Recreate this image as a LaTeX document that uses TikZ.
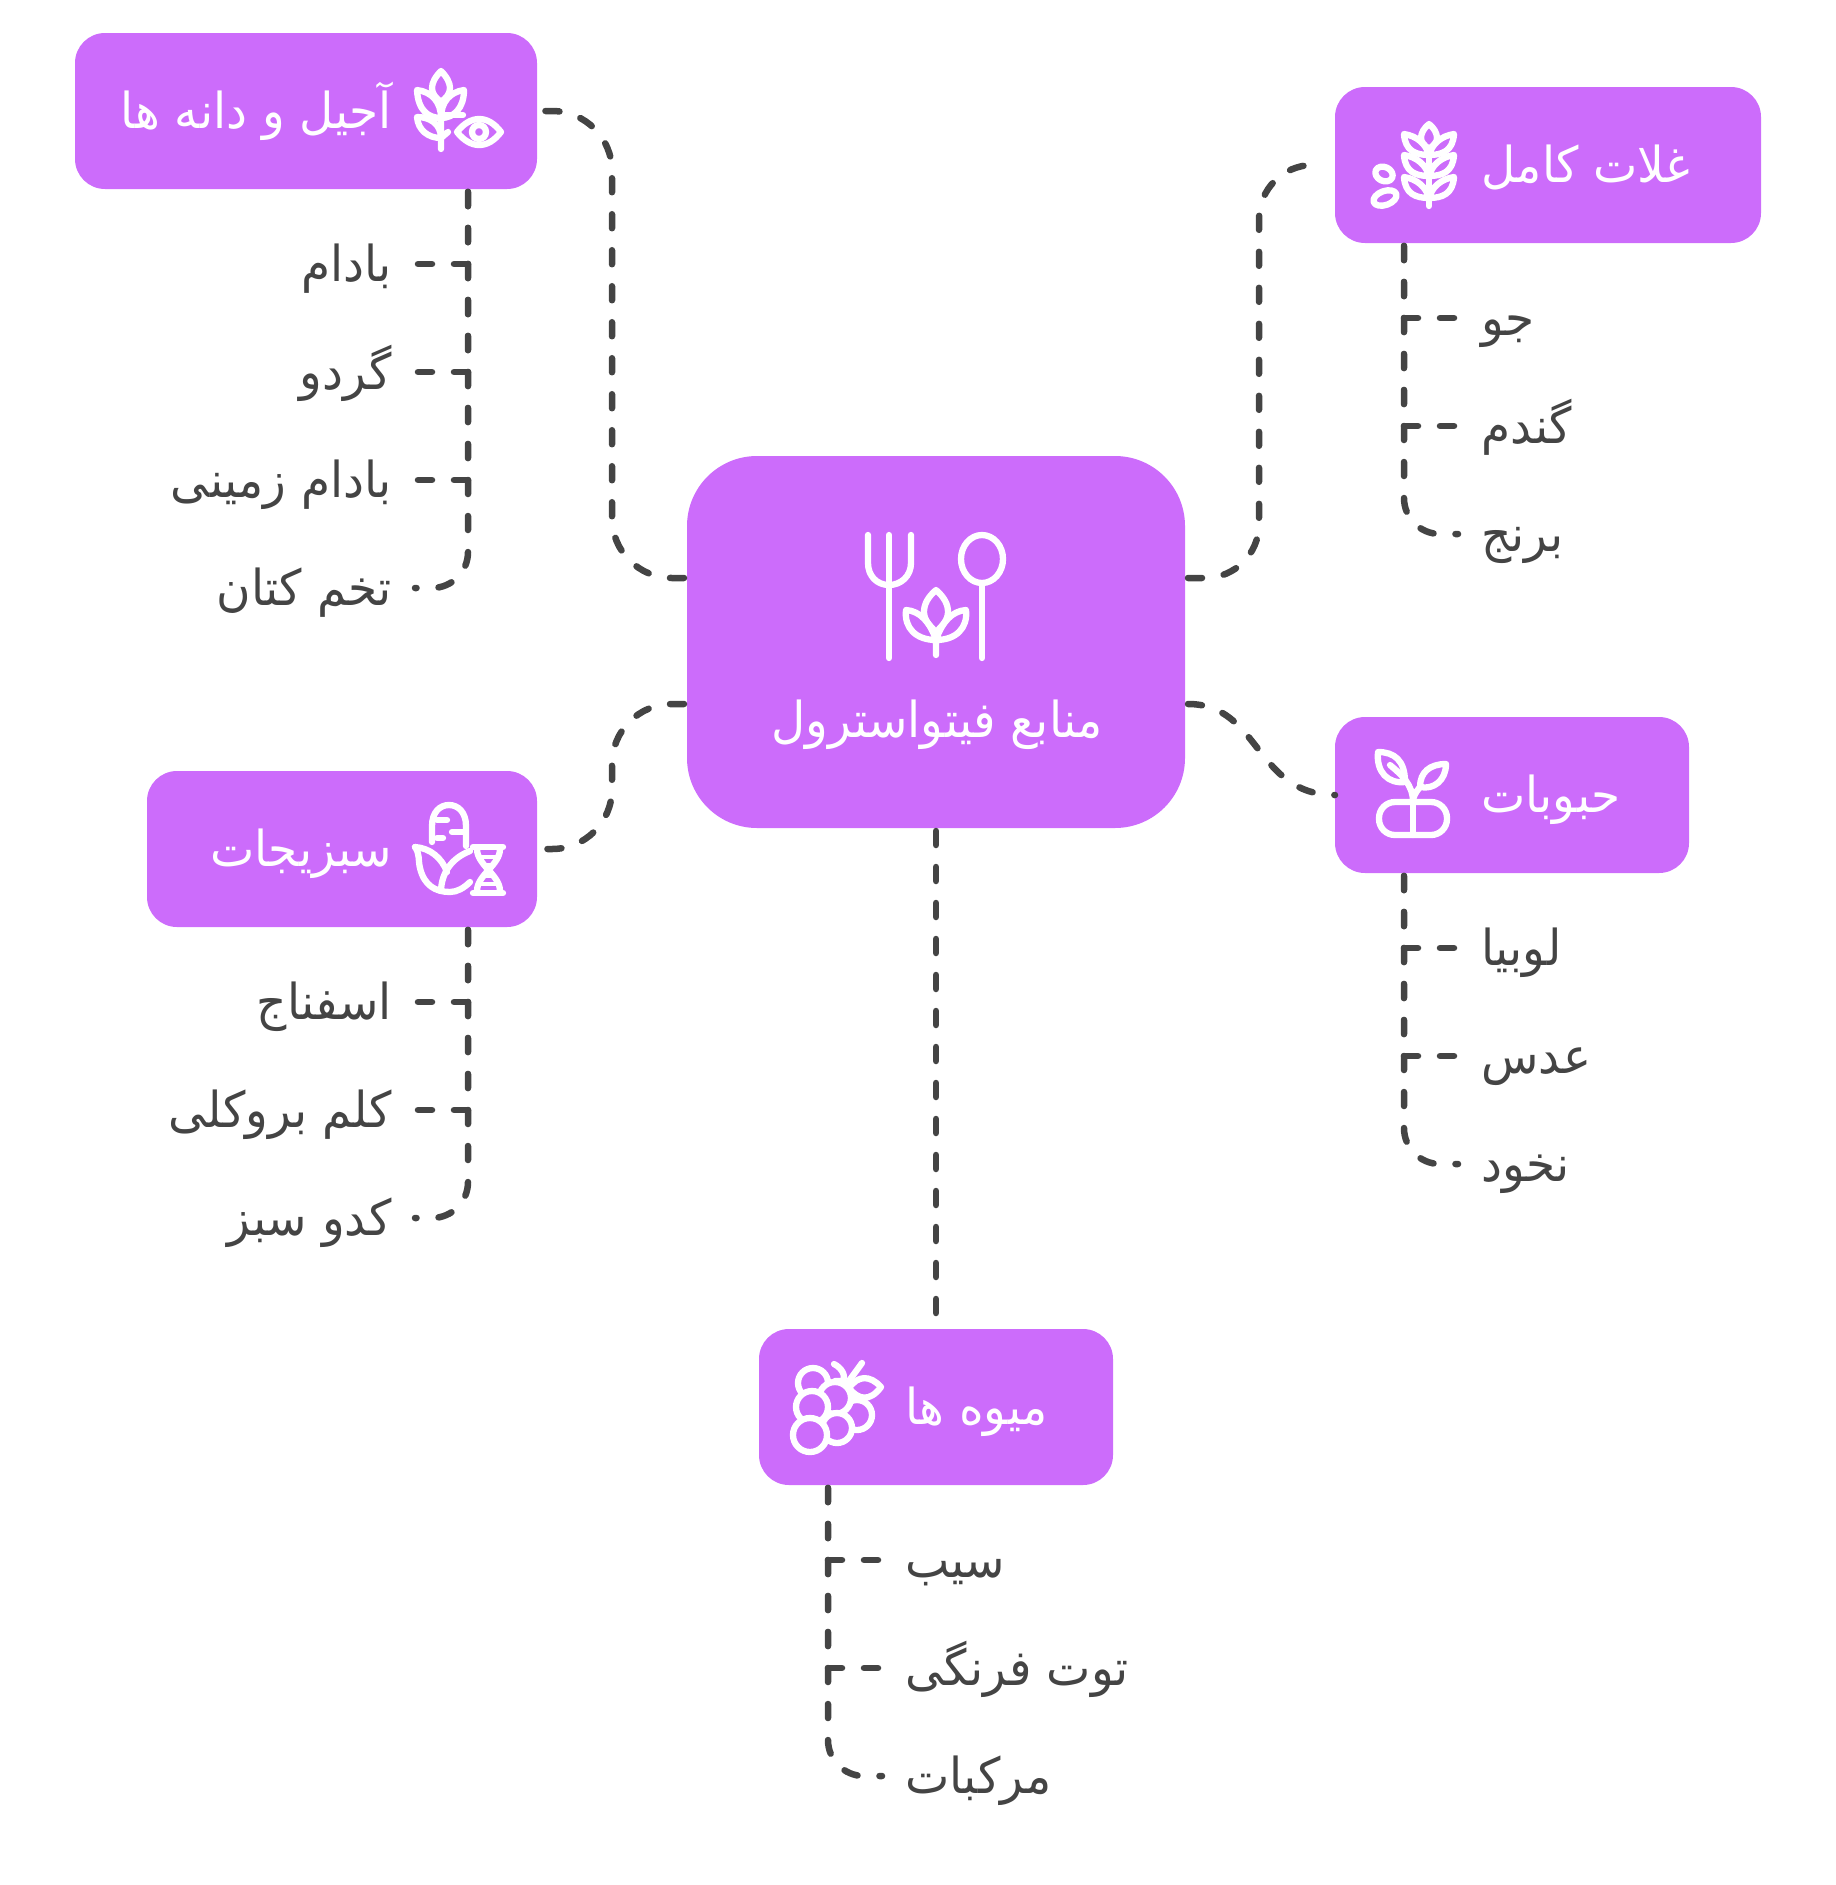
\documentclass[tikz,border=0pt]{standalone}
\usepackage{fontspec}
\TeXXeTstate=1
\newfontfamily\arabicfont[Script=Arabic,FakeStretch=.95]{DejaVu Sans}
\newcommand{\fa}[1]{{\arabicfont\beginR #1\endR}}
\definecolor{topicfill}{HTML}{CC6CFB}
\definecolor{linkgray}{HTML}{444444}
\tikzset{
  topic/.style={fill=topicfill,rounded corners=30pt,inner sep=0pt,outer sep=0pt},
  topictext/.style={white,inner sep=0pt,text height=34pt,text depth=0pt,font=\fontsize{49.5}{52}\selectfont},
  leaf/.style={text=linkgray,inner ysep=0pt,inner xsep=23pt,text height=34pt,text depth=0pt,font=\fontsize{49.5}{52}\selectfont},
  link/.style={linkgray,line width=6.5pt,line cap=round,dash pattern=on 14pt off 22pt},
  icon/.style={white,line width=6.3pt,line cap=round,line join=round}
}
\begin{document}
\begin{tikzpicture}[x=1pt,y=-1pt]
  \useasboundingbox (0,0) rectangle (1836,1885);

  % boxes
  \node[topic,rounded corners=70pt,minimum width=498pt,minimum height=372pt] (core) at (936,642) {};
  \node[topic,minimum width=462pt,minimum height=156pt] (nuts) at (306,111) {};
  \node[topic,minimum width=426pt,minimum height=156pt] (grains) at (1548,165) {};
  \node[topic,minimum width=354pt,minimum height=156pt] (pulses) at (1512,795) {};
  \node[topic,minimum width=390pt,minimum height=156pt] (greens) at (342,849) {};
  \node[topic,minimum width=354pt,minimum height=156pt] (fruits) at (936,1407) {};

  \node[topictext] (coretext) at (937,720) {\fa{منابع فیتواسترول}};
  \node[topictext,anchor=east] (nutstext) at (392,111) {\fa{آجیل و دانه ها}};
  \node[topictext,anchor=west] (grainstext) at (1481,165) {\fa{غلات کامل}};
  \node[topictext,anchor=west] (pulsestext) at (1481,795) {\fa{حبوبات}};
  \node[topictext,anchor=east] (greenstext) at (392,849) {\fa{سبزیجات}};
  \node[topictext,anchor=west] (fruitstext) at (905,1407) {\fa{میوه ها}};

  % links from the middle
  \draw[link,rounded corners=60pt] ([xshift=-3pt,yshift=64pt]core.west) -- (612,578) -- (612,111) -- (nuts.east);
  \draw[link,rounded corners=54pt] ([xshift=3pt,yshift=64pt]core.east) -- (1259,578) -- (1259,165) -- ([xshift=-22pt]grains.west);
  \draw[link,rounded corners=60pt] ([xshift=-3pt,yshift=-62pt]core.west) -- (612,704) -- (612,849) -- (greens.east);
  \draw[link] ([xshift=3pt,yshift=-62pt]core.east) .. controls (1260,704) and (1255,795) .. (pulses.west);
  \draw[link] ([yshift=-3pt]core.south) -- (fruits.north);

  % leaves
  \coordinate (nutsstem) at (468,192);
  \coordinate (grainsstem) at (1404,246);
  \coordinate (pulsesstem) at (1404,876);
  \coordinate (greensstem) at (468,930);
  \coordinate (fruitsstem) at (828,1488);

  \foreach \name/\y/\word in {almond/264/بادام,walnut/372/گردو,peanut/480/بادام زمینی}
    {\node[leaf,anchor=east] (\name) at (415,\y) {\fa{\word}};
     \draw[link] (nutsstem) |- (\name.east);}
  \node[leaf,anchor=east] (flax) at (415,588) {\fa{تخم کتان}};
  \draw[link,rounded corners=36pt] (nutsstem) |- (flax.east);

  \foreach \name/\y/\word in {spinach/1002/اسفناج,broccoli/1110/کلم بروکلی}
    {\node[leaf,anchor=east] (\name) at (415,\y) {\fa{\word}};
     \draw[link] (greensstem) |- (\name.east);}
  \node[leaf,anchor=east] (zucchini) at (415,1218) {\fa{کدو سبز}};
  \draw[link,rounded corners=36pt] (greensstem) |- (zucchini.east);

  \foreach \name/\y/\word in {barley/318/جو,wheat/426/گندم}
    {\node[leaf,anchor=west] (\name) at (1458,\y) {\fa{\word}};
     \draw[link] (grainsstem) |- (\name.west);}
  \node[leaf,anchor=west] (rice) at (1458,534) {\fa{برنج}};
  \draw[link,rounded corners=36pt] (grainsstem) |- (rice.west);

  \foreach \name/\y/\word in {bean/948/لوبیا,lentil/1056/عدس}
    {\node[leaf,anchor=west] (\name) at (1458,\y) {\fa{\word}};
     \draw[link] (pulsesstem) |- (\name.west);}
  \node[leaf,anchor=west] (pea) at (1458,1164) {\fa{نخود}};
  \draw[link,rounded corners=36pt] (pulsesstem) |- (pea.west);

  \foreach \name/\y/\word in {apple/1560/سیب,berry/1668/توت فرنگی}
    {\node[leaf,anchor=west] (\name) at (882,\y) {\fa{\word}};
     \draw[link] (fruitsstem) |- (\name.west);}
  \node[leaf,anchor=west] (citrus) at (882,1776) {\fa{مرکبات}};
  \draw[link,rounded corners=36pt] (fruitsstem) |- (citrus.west);

  % fork, spoon and sprout
  \draw[icon] (868,535) -- (868,563) .. controls (868,576) and (877,585) .. (889,585)
    .. controls (901,585) and (911,576) .. (911,563) -- (911,535);
  \draw[icon] (889,535) -- (889,658);
  \draw[icon] (982,559) ellipse (21 and 24);
  \draw[icon] (982,583) -- (982,658);
  \draw[icon] (936,590) .. controls (928,597) and (924,604) .. (924,612) .. controls (924,620) and (930,626) .. (936,632)
    .. controls (942,626) and (948,620) .. (948,612) .. controls (948,604) and (944,597) .. (936,590);
  \draw[icon] (936,640) .. controls (930,622) and (920,611) .. (906,610) .. controls (904,628) and (916,640) .. (936,640)
    .. controls (956,640) and (968,628) .. (966,610) .. controls (952,611) and (942,622) .. (936,640) -- (936,655);

  % wheat and eye
  \draw[icon] (441,71) .. controls (435,77) and (432,83) .. (432,88) .. controls (432,94) and (436,98) .. (441,102)
    .. controls (446,98) and (450,94) .. (450,88) .. controls (450,83) and (447,77) .. (441,71);
  \draw[icon] (441,118) .. controls (428,118) and (418,110) .. (417,90) .. controls (432,92) and (441,102) .. (441,118)
    .. controls (441,102) and (450,92) .. (464,90) .. controls (464,108) and (454,118) .. (441,118);
  \draw[icon] (441,138) .. controls (428,138) and (418,130) .. (417,117) .. controls (430,117) and (441,124) .. (441,138) -- (441,149);
  \draw[icon] (441,118) -- (441,138) -- (448,132);
  \draw[icon] (441,115) -- (463,115);
  \draw[icon] (457,132) .. controls (464,123) and (472,119) .. (479,119) .. controls (487,119) and (494,123) .. (501,132)
    .. controls (494,141) and (487,145) .. (479,145) .. controls (472,145) and (464,141) .. (457,132);
  \draw[icon] (479,132) circle (7);

  % wheat and grains
  \draw[icon] (1429,124) .. controls (1424,128) and (1421,133) .. (1421,138) .. controls (1421,142) and (1424,145) .. (1429,149)
    .. controls (1434,145) and (1437,142) .. (1437,138) .. controls (1437,133) and (1434,128) .. (1429,124);
  \foreach \t in {134,155,177}
    {\draw[icon] (1429,\t+21) .. controls (1416,\t+21) and (1405,\t+17) .. (1404,\t)
        .. controls (1417,\t+2) and (1426,\t+10) .. (1429,\t+21)
        .. controls (1432,\t+10) and (1441,\t+2) .. (1454,\t) .. controls (1453,\t+17) and (1442,\t+21) .. (1429,\t+21);}
  \draw[icon] (1429,149) -- (1429,206);
  \draw[icon,rotate around={-25:(1384,174)}] (1384,174) ellipse (9 and 7);
  \draw[icon,rotate around={20:(1385,198)}] (1385,198) ellipse (12 and 7);

  % sprout and capsule
  \draw[icon,rounded corners=16pt] (1379,802) rectangle (1447,835);
  \draw[icon] (1413,802) -- (1413,835);
  \draw[icon] (1378,752) .. controls (1394,752) and (1405,760) .. (1405,782)
    .. controls (1388,784) and (1376,772) .. (1378,752);
  \draw[icon] (1446,764) .. controls (1430,764) and (1420,772) .. (1420,787)
    .. controls (1434,790) and (1446,780) .. (1446,764);
  \draw[icon] (1390,765) .. controls (1402,775) and (1413,785) .. (1413,802) .. controls (1413,796) and (1416,792) .. (1420,787);

  % corn and helix
  \draw[icon] (432,842) -- (432,826) .. controls (432,812) and (440,805) .. (449,805)
    .. controls (458,805) and (466,812) .. (466,826) -- (466,846);
  \draw[icon] (437,820) -- (447,820) (452,832) -- (465,832) (437,838) -- (443,838);
  \draw[icon] (415,847) .. controls (430,848) and (442,858) .. (447,872);
  \draw[icon] (415,847) .. controls (420,854) and (418,860) .. (420,868) .. controls (424,885) and (435,892) .. (450,892)
    .. controls (457,892) and (464,888) .. (470,882);
  \draw[icon] (470,851) .. controls (452,858) and (442,872) .. (441,890);
  \draw[icon] (473,847) -- (503,847) (473,893) -- (503,893);
  \draw[icon] (477,849) .. controls (477,865) and (500,875) .. (500,891);
  \draw[icon] (500,849) .. controls (500,865) and (477,875) .. (477,891);
  \draw[icon,line width=4pt] (478,857) -- (499,857) (483,865) -- (494,865) (483,876) -- (494,876) (478,884) -- (499,884);

  % grapes
  \draw[icon,fill=topicfill] (813,1383) circle (15);
  \draw[icon,fill=topicfill] (857,1415) circle (15);
  \draw[icon,fill=topicfill] (835,1398) circle (16);
  \draw[icon,fill=topicfill] (812,1407) circle (16);
  \draw[icon,fill=topicfill] (837,1428) circle (15);
  \draw[icon,fill=topicfill] (810,1435) circle (17);
  \draw[icon,fill=topicfill] (849,1388) .. controls (858,1375) and (870,1375) .. (881,1387) .. controls (870,1402) and (858,1400) .. (849,1388);
  \draw[icon] (862,1363) -- (846,1385);
  \draw[icon] (834,1364) .. controls (842,1368) and (846,1376) .. (843,1381) -- (835,1381);
\end{tikzpicture}
\end{document}
